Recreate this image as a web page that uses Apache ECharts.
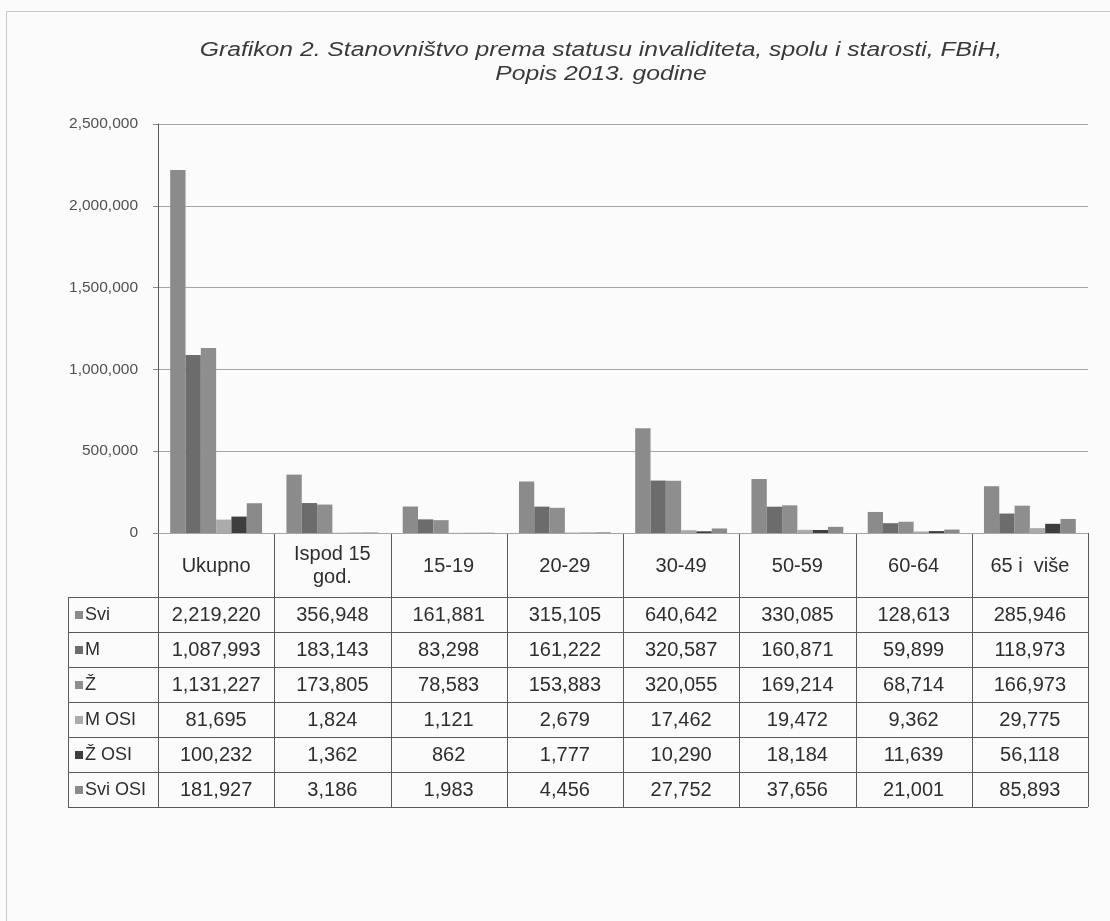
<!DOCTYPE html>
<html>
<head>
<meta charset="utf-8">
<script src="https://cdn.jsdelivr.net/npm/echarts@6/dist/echarts.min.js"></script>
<style>
html,body{margin:0;padding:0;background:#fcfbfc;}
#chart{width:1110px;height:921px;}
</style>
</head>
<body>
<div id="chart"></div>
<script>
// ---- data ----
var titleLines = ['Grafikon 2. Stanovništvo prema statusu invaliditeta, spolu i starosti, FBiH,', 'Popis 2013. godine'];
var categories = ['Ukupno', 'Ispod 15\ngod.', '15-19', '20-29', '30-49', '50-59', '60-64', '65 i  više'];
var seriesNames = ['Svi', 'M', 'Ž', 'M OSI', 'Ž OSI', 'Svi OSI'];
var svi    = [2219220, 356948, 161881, 315105, 640642, 330085, 128613, 285946];
var m      = [1087993, 183143, 83298, 161222, 320587, 160871, 59899, 118973];
var z      = [1131227, 173805, 78583, 153883, 320055, 169214, 68714, 166973];
var mOsi   = [81695, 1824, 1121, 2679, 17462, 19472, 9362, 29775];
var zOsi   = [100232, 1362, 862, 1777, 10290, 18184, 11639, 56118];
var sviOsi = [181927, 3186, 1983, 4456, 27752, 37656, 21001, 85893];
var yMax = 2500000, yStep = 500000;

var seriesData = [svi, m, z, mOsi, zOsi, sviOsi];
var colors = ['#8b8b8b', '#6c6c6c', '#8e8e8e', '#ababab', '#3e3e3e', '#8a8a8a'];

function fmt(v){ return v.toLocaleString('en-US'); }

// ---- layout ----
var W = 1110, H = 921;
var gL = 158, gR = 1088, gT = 124, gB = 533;
var legL = 68;
var headB = 597, rowH = 35;
var colW = (gR - gL) / categories.length;
var tableB = headB + rowH * seriesNames.length;
var lineCol = '#5a5a5a';
var txtCol = '#2e2e2e';
var tFont = '20px "Liberation Sans", Arial, sans-serif';
var lFont = '18px "Liberation Sans", Arial, sans-serif';

var graphics = [];
// outer frame
graphics.push({type:'rect', shape:{x:6.5, y:11.5, width:1200, height:1000}, style:{fill:'none', stroke:'#c8c8c8', lineWidth:1}, silent:true});
// title
titleLines.forEach(function(t, i){
  graphics.push({type:'text', x:601, y:50 + i*24, scaleX:1.234, scaleY:1,
    style:{text:t, x:0, y:0, align:'center', verticalAlign:'middle',
    font:'italic 20px "Liberation Sans", Arial, sans-serif', fill:'#3a3a3a'}, silent:true});
});
function hline(x1,x2,y){ graphics.push({type:'line', shape:{x1:x1,y1:y,x2:x2,y2:y}, style:{stroke:lineCol, lineWidth:1}, silent:true}); }
function vline(x,y1,y2){ graphics.push({type:'line', shape:{x1:x,y1:y1,x2:x,y2:y2}, style:{stroke:lineCol, lineWidth:1}, silent:true}); }
// table lines
hline(gL, gR, gB + 0.5);
for (var r = 0; r <= seriesNames.length; r++) hline(legL, gR, headB + r*rowH + 0.5);
vline(legL + 0.5, headB, tableB);
for (var c = 0; c <= categories.length; c++) vline(Math.round(gL + c*colW) + 0.5, gB, tableB);
vline(gL + 0.5, gT, gB);
// header labels
categories.forEach(function(cat, i){
  graphics.push({type:'text', style:{text:cat, x:gL + (i+0.5)*colW, y:(gB+headB)/2 + 1, align:'center', verticalAlign:'middle',
    font:tFont, fill:txtCol, lineHeight:23}, silent:true});
});
// rows
seriesNames.forEach(function(name, r){
  var cy = headB + r*rowH + rowH/2 + 1;
  graphics.push({type:'rect', shape:{x:legL+7, y:cy-4.5, width:8, height:8}, style:{fill:colors[r]}, silent:true});
  graphics.push({type:'text', style:{text:name, x:legL+17, y:cy, align:'left', verticalAlign:'middle', font:lFont, fill:txtCol}, silent:true});
  seriesData[r].forEach(function(v, i){
    graphics.push({type:'text', style:{text:fmt(v), x:gL + (i+0.5)*colW, y:cy, align:'center', verticalAlign:'middle', font:tFont, fill:txtCol}, silent:true});
  });
});

var chart = echarts.init(document.getElementById('chart'), null, {renderer:'canvas', width:W, height:H});
chart.setOption({
  backgroundColor:'#fcfbfc',
  animation:false,
  grid:{left:gL, top:gT, width:gR-gL, height:gB-gT, containLabel:false},
  xAxis:{type:'category', data:categories, axisLabel:{show:false}, axisTick:{show:false},
    axisLine:{show:false}},
  yAxis:{type:'value', min:0, max:yMax, interval:yStep,
    axisLine:{show:true, lineStyle:{color:lineCol}},
    axisTick:{show:true, length:5, lineStyle:{color:'#8a8a8a'}},
    axisLabel:{formatter:function(v){return fmt(v);}, color:'#505050', fontSize:15.5, margin:20,
      fontFamily:'"Liberation Sans", Arial, sans-serif'},
    splitLine:{lineStyle:{color:'#a5a5a5', width:1}}},
  series: seriesNames.map(function(n, i){
    return {name:n, type:'bar', data:seriesData[i], barGap:'0%', barCategoryGap:'21%',
      itemStyle:{color:colors[i]}};
  }),
  graphic: graphics
});
</script>
</body>
</html>
